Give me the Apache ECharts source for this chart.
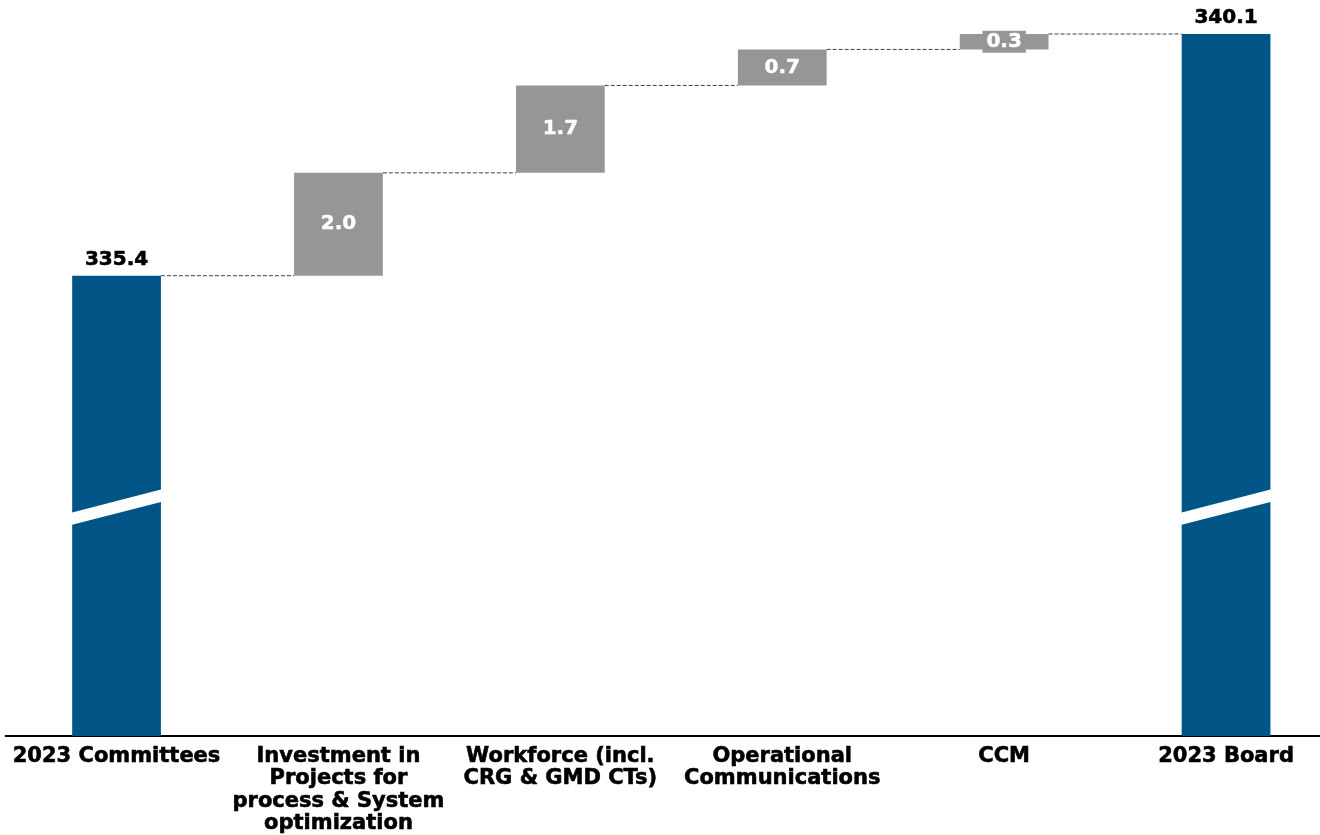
<!DOCTYPE html>
<html>
<head>
<meta charset="utf-8">
<script src="https://cdn.jsdelivr.net/npm/echarts@6/dist/echarts.min.js"></script>
<style>
  html, body { margin: 0; padding: 0; background: #ffffff; overflow: hidden; }
  /* the plot area runs a little past the right edge of the page */
  #chart { width: 1337px; height: 835px; }
</style>
</head>
<body>
<div id="chart"></div>
<script>
// Budget bridge: 2023 Committees -> 2023 Board (values in millions)
const categories = [
  '2023 Committees',
  'Investment in\nProjects for\nprocess & System\noptimization',
  'Workforce (incl.\nCRG & GMD CTs)',
  'Operational\nCommunications',
  'CCM',
  '2023 Board'
];
const startTotal = 335.4;
const increments = [2.0, 1.7, 0.7, 0.3];
const endTotal = 340.1;

// Axis window (the value axis is broken, so it starts well above zero)
const axisMin = 326.45;
const axisMax = 340.1;
// Value at which the break stripe crosses the total bars
const breakValue = 330.9;

const FONT = '"DejaVu Sans", sans-serif';
const BLUE = '#005587';
const GREY = '#969696';

// Derived waterfall series
const n = categories.length;
const totals = new Array(n).fill('-');
totals[0] = startTotal;
totals[n - 1] = endTotal;

const deltas = new Array(n).fill('-');
const bases = new Array(n).fill('-');
const levels = [startTotal]; // running level after each step
let running = startTotal;
increments.forEach((v, i) => {
  bases[i + 1] = +running.toFixed(2);
  deltas[i + 1] = v;
  running += v;
  levels.push(+running.toFixed(2));
});

// connector data: [categoryIndex, level]
const connectors = levels.map((lv, i) => [i, lv]);

const chart = echarts.init(document.getElementById('chart'), null, { renderer: 'canvas' });

const option = {
  animation: false,
  backgroundColor: '#ffffff',
  grid: { left: 5.6, right: 0, top: 34, bottom: 98, containLabel: false },
  xAxis: {
    type: 'category',
    data: categories,
    axisTick: { show: false },
    axisLine: { show: true, lineStyle: { color: '#000000', width: 2 } },
    axisLabel: {
      interval: 0,
      color: '#000000',
      fontFamily: FONT,
      fontWeight: 'bold',
      fontSize: 21,
      lineHeight: 22.5,
      margin: 9,
      align: 'center',
      textBorderColor: '#000000',
      textBorderWidth: 0.6
    }
  },
  yAxis: {
    type: 'value',
    min: axisMin,
    max: axisMax,
    show: false,
    splitLine: { show: false }
  },
  series: [
    {
      name: 'base',
      type: 'bar',
      stack: 'w',
      barWidth: '40%',
      itemStyle: { color: 'transparent' },
      emphasis: { disabled: true },
      data: bases,
      z: 1
    },
    {
      name: 'total',
      type: 'bar',
      stack: 'w',
      barWidth: '40%',
      itemStyle: { color: BLUE },
      data: totals,
      label: {
        show: true,
        position: 'top',
        distance: 6,
        color: '#000000',
        fontFamily: FONT,
        fontWeight: 'bold',
        fontSize: 20,
        textBorderColor: '#000000',
        textBorderWidth: 0.6,
        formatter: p => Number(p.value).toFixed(1)
      },
      z: 2
    },
    {
      name: 'change',
      type: 'bar',
      stack: 'w',
      barWidth: '40%',
      itemStyle: { color: GREY },
      data: deltas,
      label: {
        show: true,
        position: 'inside',
        color: '#ffffff',
        fontFamily: FONT,
        fontWeight: 'bold',
        fontSize: 20,
        textBorderColor: '#ffffff',
        textBorderWidth: 0.5,
        backgroundColor: GREY,
        padding: [1, 4, 1, 4],
        formatter: p => Number(p.value).toFixed(1)
      },
      z: 2
    },
    {
      name: 'connector',
      type: 'custom',
      silent: true,
      z: 3,
      data: connectors.slice(0, n - 1),
      renderItem: function (params, api) {
        const i = api.value(0);
        const lv = api.value(1);
        const p0 = api.coord([i, lv]);
        const p1 = api.coord([i + 1, lv]);
        const half = api.size([1, 0])[0] * 0.4 / 2;
        return {
          type: 'line',
          shape: { x1: p0[0] + half, y1: p0[1], x2: p1[0] - half, y2: p1[1] },
          style: { stroke: '#404040', lineWidth: 1, lineDash: [4, 2] }
        };
      }
    }
  ]
};

chart.setOption(option);

// Axis-break stripes across the two total bars
function drawBreaks() {
  const stripes = [];
  [0, n - 1].forEach(idx => {
    const c = chart.convertToPixel({ gridIndex: 0 }, [idx, breakValue]);
    const other = idx < n - 1 ? idx + 1 : idx - 1;
    const c2 = chart.convertToPixel({ gridIndex: 0 }, [other, breakValue]);
    const step = Math.abs(c2[0] - c[0]);
    const half = step * 0.4 / 2 + 1;
    const rise = 11.7;   // vertical drop from right edge to left edge
    const thick = 6.2;   // half the stripe thickness
    const xl = c[0] - half, xr = c[0] + half;
    stripes.push({
      type: 'polygon',
      silent: true,
      z: 10,
      shape: {
        points: [
          [xl, c[1] + rise - thick],
          [xr, c[1] - rise - thick],
          [xr, c[1] - rise + thick],
          [xl, c[1] + rise + thick]
        ]
      },
      style: { fill: '#ffffff' }
    });
  });
  chart.setOption({ graphic: stripes });
}
drawBreaks();
</script>
</body>
</html>
